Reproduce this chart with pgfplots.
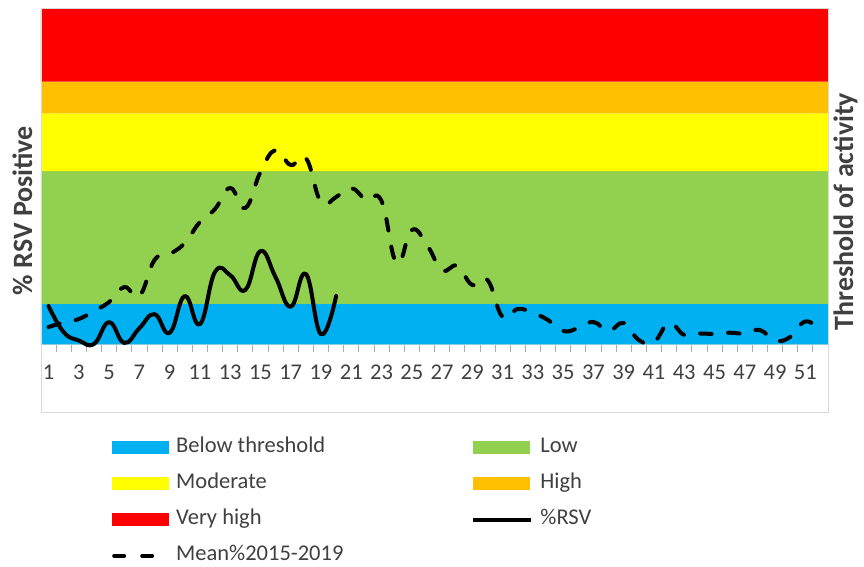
\documentclass[border=0pt]{standalone}
\usepackage{fontspec}
\setmainfont{Carlito}
\usepackage{pgfplots}
\pgfplotsset{compat=1.18}
\definecolor{cblue}{HTML}{00B0F0}
\definecolor{cgreen}{HTML}{92D050}
\definecolor{cyellow}{HTML}{FFFF00}
\definecolor{corange}{HTML}{FFC000}
\definecolor{cred}{HTML}{FF0000}
\definecolor{txt}{HTML}{404040}
\definecolor{frame}{HTML}{D9D9D9}
\pgfplotsset{
  band/.style={draw=none, fill=#1,
    legend image code/.code={\fill[##1] (0pt,-6.5pt) rectangle (57pt,6.5pt);}},
  rsvline/.style={black, line width=4pt, smooth, tension=0.75, line cap=round, line join=round,
    legend image code/.code={\draw[##1, line cap=butt] (0pt,0pt) -- (58pt,0pt);}},
  meanline/.style={black, line width=4pt, smooth, tension=0.75, line cap=round, dash pattern=on 11.5pt off 16.5pt,
    legend image code/.code={\draw[##1, dash pattern=on 10pt off 18pt] (2pt,0pt) -- (42pt,0pt);}},
}
\begin{document}
\begin{tikzpicture}
\path[use as bounding box] (0,0) rectangle (864pt,567pt);
\begin{axis}[
  at={(41pt,222.7pt)}, anchor=south west,
  width=787pt, height=335.3pt, scale only axis,
  xmin=0.5, xmax=52.5, ymin=0, ymax=50,
  clip=false,
  axis y line=none,
  axis x line*=bottom,
  x axis line style={draw=frame, line width=0.8pt},
  xtick={1,3,...,51},
  minor xtick={0.5,1.5,...,52.5},
  major tick length=0pt,
  minor tick length=8pt,
  tick align=outside,
  minor tick style={draw=frame!80!black, line width=0.8pt},
  ytick=\empty,
  /pgf/number format/assume math mode=true,
  xticklabel style={font=\fontsize{22.5}{26}\selectfont, text=txt, yshift=-17pt},
  legend columns=2,
  legend cell align=left,
  legend style={at={(axis description cs:0.0902,-0.2735)}, anchor=north west,
    draw=none, fill=none, inner sep=0pt,
    font=\fontsize{22.5}{26}\selectfont, text=txt,
    nodes={inner xsep=7pt, inner ysep=2pt, text height=14pt, text depth=5pt},
    row sep=13pt,
    /tikz/every even column/.append style={column sep=121pt}},
]
\addplot[band=cblue] coordinates {(0.5,0) (52.5,0) (52.5,6.01) (0.5,6.01) (0.5,0)};
\addlegendentry{Below threshold}
\addplot[band=cgreen] coordinates {(0.5,6.01) (52.5,6.01) (52.5,25.84) (0.5,25.84) (0.5,6.01)};
\addlegendentry{Low}
\addplot[band=cyellow] coordinates {(0.5,25.84) (52.5,25.84) (52.5,34.45) (0.5,34.45) (0.5,25.84)};
\addlegendentry{Moderate}
\addplot[band=corange] coordinates {(0.5,34.45) (52.5,34.45) (52.5,39.16) (0.5,39.16) (0.5,34.45)};
\addlegendentry{High}
\addplot[band=cred] coordinates {(0.5,39.16) (52.5,39.16) (52.5,50) (0.5,50) (0.5,39.16)};
\addlegendentry{Very high}
\addplot[rsvline]
  coordinates {(1,5.7)(2,1.8)(3,0.57)(4,0.05)(5,3.3)(6,0.2)(7,2.4)(8,4.5)(9,1.7)(10,7.2)
  (11,3.0)(12,10.8)(13,10.3)(14,8.1)(15,13.9)(16,10.0)(17,5.6)(18,10.5)(19,1.5)(20,7.2)};
\addlegendentry{\%RSV}
\addplot[meanline]
  coordinates {(1,2.58)(2,3.25)(3,3.77)(4,4.97)(5,6.31)(6,8.54)(7,7.20)(8,12.57)(9,13.47)(10,15.11)
  (11,18.24)(12,20.18)(13,23.31)(14,20.33)(15,25.69)(16,28.97)(17,26.74)(18,27.79)(19,21.23)(20,21.97)
  (21,23.31)(22,21.52)(23,21.37)(24,12.12)(25,17.04)(26,14.81)(27,11.08)(28,11.68)(29,8.85)(30,9.59)
  (31,4.07)(32,5.26)(33,4.67)(34,3.62)(35,1.98)(36,2.43)(37,3.33)(38,1.98)(39,3.18)(40,0.64)
  (41,0.34)(42,3.18)(43,1.39)(44,1.61)(45,1.54)(46,1.73)(47,1.61)(48,2.13)(49,0.57)(50,1.09)
  (51,3.40)(52,2.13)};
\addlegendentry{Mean\%2015-2019}
\draw[frame, line width=0.8pt] (axis description cs:0,-0.2019) rectangle (axis description cs:1,1.003);
\node[rotate=90, font=\fontsize{28}{32}\selectfont\bfseries, text=txt] at (axis description cs:-0.0235,0.399) {\% RSV Positive};
\node[rotate=90, font=\fontsize{28}{32}\selectfont\bfseries, text=txt] at (axis description cs:1.0222,0.396) {Threshold of activity};
\end{axis}
\end{tikzpicture}
\end{document}
